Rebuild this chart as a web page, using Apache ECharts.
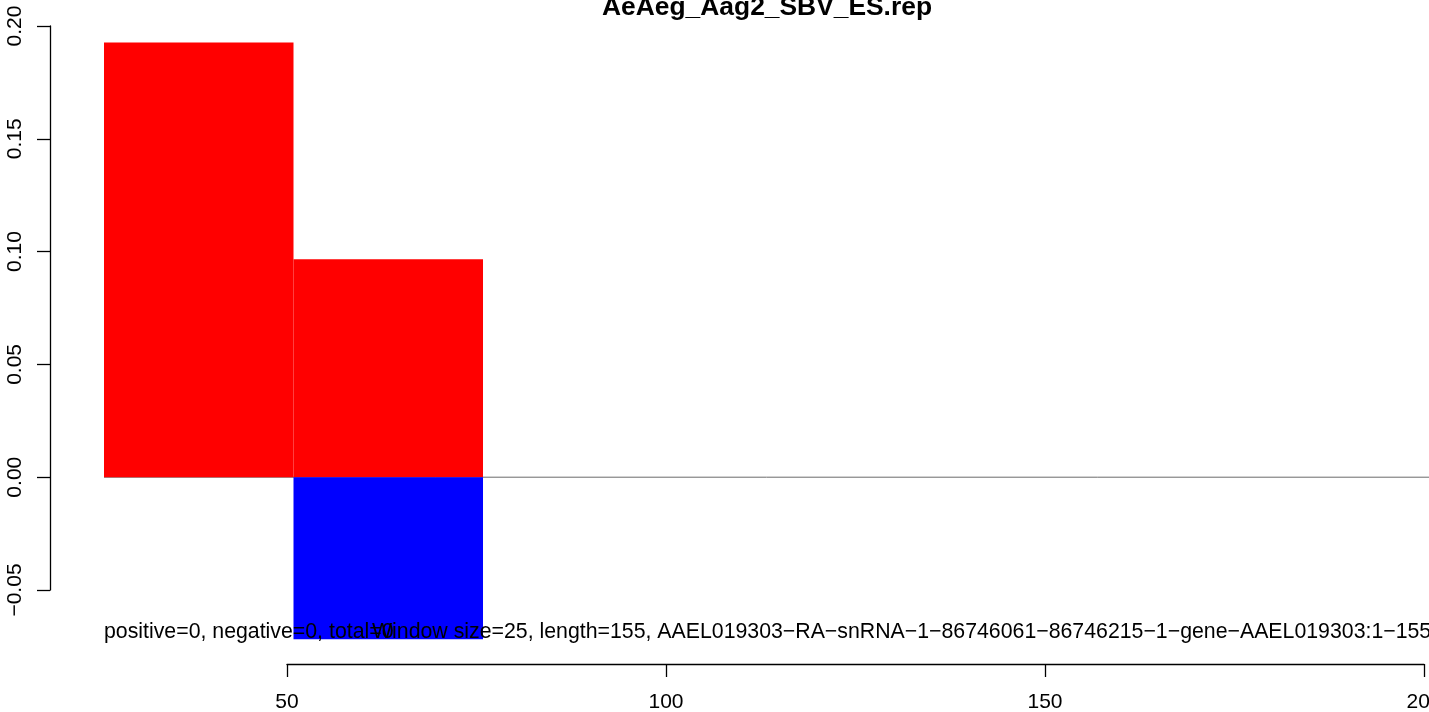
<!DOCTYPE html>
<html>
<head>
<meta charset="utf-8">
<script src="https://cdn.jsdelivr.net/npm/echarts@6/dist/echarts.min.js"></script>
<style>
  html, body { margin: 0; padding: 0; background: #fff; }
  #chart { width: 1429px; height: 712px; }
</style>
</head>
<body>
<div id="chart"></div>
<script>
// window starts (x of left edge of each bin) and width
const binStarts = [25.9, 50.9];
const binWidth = 25;
// sense (up, red) and antisense (down, blue) values
const positive = [0.1927, 0.0966];
const negative = [0, -0.0718];

const xTicks = {min: 50, max: 200, interval: 50};
const yTicks = {min: -0.05, max: 0.20, interval: 0.05};

const titleText = 'AeAeg_Aag2_SBV_ES.rep';
const noteLeft = 'positive=0, negative=0, total=0';
const noteRight = 'Window size=25, length=155, AAEL019303\u2212RA\u2212snRNA\u22121\u221286746061\u221286746215\u22121\u2212gene\u2212AAEL019303:1\u2212155';

const FONT = '"Liberation Sans", Arial, Helvetica, sans-serif';

let chart = echarts.init(document.getElementById('chart'));

const barItem = (color) => (params, api) => {
  let x0 = api.value(0);
  let v = api.value(1);
  let p0 = api.coord([x0, Math.max(v, 0)]);
  let p1 = api.coord([x0 + binWidth, Math.min(v, 0)]);
  return {
    type: 'rect',
    shape: {x: p0[0], y: p0[1], width: p1[0] - p0[0], height: p1[1] - p0[1]},
    style: {fill: color}
  };
};

let option = {
  animation: false,
  textStyle: {fontFamily: FONT},
  grid: [
    // plotting area
    {left: 104, right: 0, top: 26, height: 614, outerBoundsMode: 'none'},
    // x axis (R style, only spans the ticks)
    {left: 287, width: 1137, top: 600, height: 64, outerBoundsMode: 'none'},
    // y axis
    {left: 50, width: 1, top: 26, height: 564, outerBoundsMode: 'none'}
  ],
  xAxis: [
    {gridIndex: 0, type: 'value', min: 25.9, max: 200.7, show: false},
    {
      gridIndex: 1, type: 'value', min: xTicks.min, max: xTicks.max, interval: xTicks.interval,
      axisLine: {lineStyle: {color: '#000', width: 1.3}},
      axisTick: {length: 13, lineStyle: {color: '#000', width: 1.3}},
      axisLabel: {color: '#000', fontSize: 21, fontFamily: FONT, margin: 28, showMaxLabel: true},
      splitLine: {show: false}
    },
    {gridIndex: 2, type: 'value', show: false}
  ],
  yAxis: [
    {gridIndex: 0, type: 'value', min: 0.20 - 614 / 2256, max: 0.20, show: false},
    {gridIndex: 1, type: 'value', show: false},
    {
      gridIndex: 2, type: 'value', min: yTicks.min, max: yTicks.max, interval: yTicks.interval,
      axisLine: {show: true, lineStyle: {color: '#000', width: 1.3}},
      axisTick: {show: true, length: 13, lineStyle: {color: '#000', width: 1.3}},
      axisLabel: {
        color: '#000', fontSize: 21, fontFamily: FONT, rotate: 90, margin: 24,
        formatter: v => (v < 0 ? '\u2212' : '') + Math.abs(v).toFixed(2)
      },
      splitLine: {show: false}
    }
  ],
  series: [
    {
      type: 'line',
      xAxisIndex: 0, yAxisIndex: 0,
      data: [[25.9, 0], [200.7, 0]],
      symbol: 'none',
      lineStyle: {color: '#6b6b6b', width: 1},
      z: 1
    },
    {
      type: 'custom',
      xAxisIndex: 0, yAxisIndex: 0,
      renderItem: barItem('#ff0000'),
      data: binStarts.map((x, i) => [x, positive[i]]),
      z: 2
    },
    {
      type: 'custom',
      xAxisIndex: 0, yAxisIndex: 0,
      renderItem: barItem('#0000ff'),
      data: binStarts.map((x, i) => [x, negative[i]]).filter(d => d[1] !== 0),
      z: 2
    }
  ],
  graphic: [
    {
      type: 'text', left: 602, top: -5, z: 100,
      style: {text: titleText, font: 'bold 26.4px ' + FONT, fill: '#000'}
    },
    {
      type: 'text', left: 104, top: 622, z: 100,
      style: {text: noteLeft, font: '21.3px ' + FONT, fill: '#000'}
    },
    {
      type: 'text', left: 372, top: 622, z: 100,
      style: {text: noteRight, font: '21.3px ' + FONT, fill: '#000'}
    }
  ]
};

chart.setOption(option);
</script>
</body>
</html>
